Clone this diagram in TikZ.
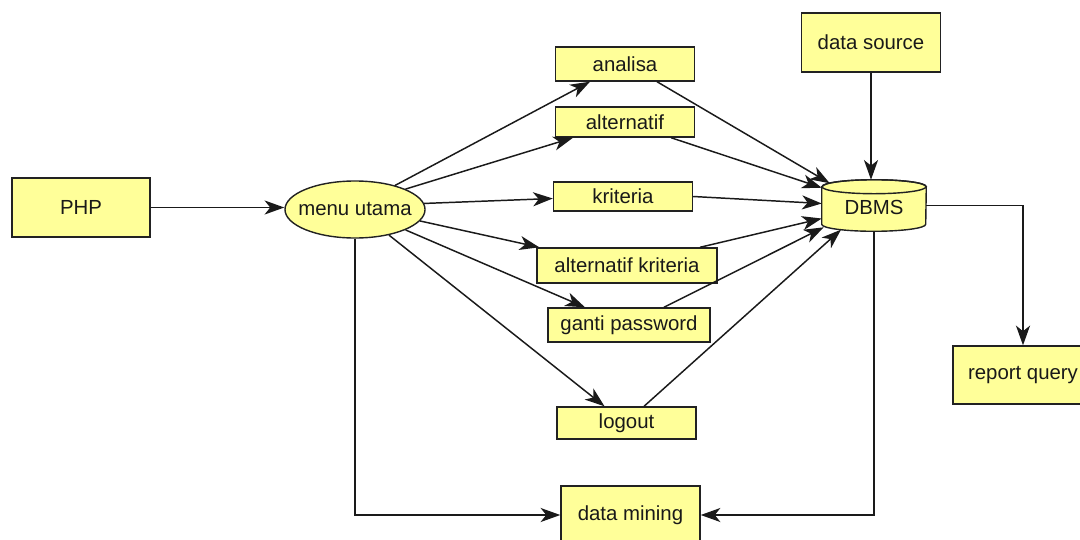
\documentclass[tikz,border=0pt]{standalone}
\usepackage{fontspec}
\setmainfont{Liberation Sans}
\usetikzlibrary{arrows.meta,calc,shapes.geometric}

\definecolor{boxfill}{HTML}{FFFF99}
\definecolor{boxline}{HTML}{222222}
\definecolor{wire}{HTML}{1A1A1A}

\tikzset{
  base/.style={draw=boxline, fill=boxfill, line width=1pt, inner sep=0pt,
               font=\fontsize{14.5}{17}\selectfont, text=black!90},
  proc/.style={base, rectangle},
  oval/.style={base, ellipse},
  flow/.style={draw=wire, line width=1.05pt,
               -{Stealth[length=14pt, width=10pt, inset=4pt]}},
}

\begin{document}
\begin{tikzpicture}[x=0.025cm, y=-0.025cm]
\useasboundingbox (0,0) rectangle (1080,540);
\fill[white] (0,0) rectangle (1080,540);
\clip (0,0) rectangle (1080,540);

% entry point and main menu (label boxed to zero width so the oval keeps its size)
\node[proc, minimum width=3.45cm,  minimum height=1.475cm] (php)    at (81,207.5)  {PHP};
\node[oval, minimum width=3.5cm,   minimum height=1.425cm] (menu)   at (355,209.5) {\makebox[0pt]{menu utama}};

% menu entries
\node[proc, minimum width=3.475cm, minimum height=0.85cm]  (analisa)    at (625,64)    {analisa};
\node[proc, minimum width=3.475cm, minimum height=0.75cm]  (alternatif) at (625,122)   {alternatif};
\node[proc, minimum width=3.475cm, minimum height=0.725cm] (kriteria)   at (623,196.5) {kriteria};
\node[proc, minimum width=4.5cm,   minimum height=0.875cm] (altkrit)    at (627,265.5) {alternatif kriteria};
\node[proc, minimum width=4.05cm,  minimum height=0.85cm]  (ganti)      at (629,325)   {ganti password};
\node[proc, minimum width=3.475cm, minimum height=0.8cm]   (logout)     at (626.5,423) {logout};
\node[proc, minimum width=3.475cm, minimum height=1.45cm]  (mining)     at (630.5,515) {data mining};

% data side
\node[proc, minimum width=3.475cm, minimum height=1.475cm] (source) at (871,42.5) {data source};
\node[proc, minimum width=3.5cm,   minimum height=1.45cm]  (report) at (1023,375) {report query};

% database cylinder
\node[inner sep=0pt, minimum width=2.6cm, minimum height=1.275cm] (dbms) at (874,205.5) {};
\path[base]
  ($(dbms.north west)+(0,7)$) -- ($(dbms.south west)+(0,-7)$)
  arc[start angle=180, end angle=0, x radius=52, y radius=7]
  -- ($(dbms.north east)+(0,7)$)
  arc[start angle=0, end angle=-180, x radius=52, y radius=7] -- cycle;
\draw[boxline, line width=1pt] ($(dbms.north)+(0,7)$) ellipse[x radius=52, y radius=7];
\node[font=\fontsize{14.5}{17}\selectfont, text=black!90] at ($(dbms.center)+(0,2)$) {DBMS};

% connectors from the menu
\draw[flow] (php.east) -- (php.east -| menu.west);
\draw[flow] (menu.31)  -- ($(analisa.south)+(-35,0)$);
\draw[flow] (menu.22)  -- ($(alternatif.south)+(-52,0)$);
\draw[flow] (menu.5)   -- ($(kriteria.west)+(0,2)$);
\draw[flow] (menu.-10) -- ($(altkrit.north west)+(3,0)$);
\draw[flow] (menu.-22) -- ($(ganti.north)+(-44,0)$);
\draw[flow] (menu.-37) -- ($(logout.north)+(-22,0)$);
\draw[flow] (menu.south) |- (mining.west);

% connectors into the database
\draw[flow] ($(analisa.south)+(32,0)$)    -- ($(dbms.north west)+(8,3.5)$);
\draw[flow] ($(alternatif.south)+(46,0)$) -- ($(dbms.north west)+(0,8)$);
\draw[flow] (kriteria.east)               -- ($(dbms.west)+(0,-2)$);
\draw[flow] ($(altkrit.north)+(73,0)$)    -- ($(dbms.west)+(0,13)$);
\draw[flow] ($(ganti.north)+(35,0)$)      -- ($(dbms.south west)+(2,-4)$);
\draw[flow] ($(logout.north)+(17.5,0)$)   -- ($(dbms.south)+(-33,-1.6)$);
\draw[flow] (source.south) -- (source.south |- dbms.north);

% connectors out of the database
\draw[flow] (dbms.east)  -| (report.north);
\draw[flow] (dbms.south) |- (mining.east);
\end{tikzpicture}
\end{document}
